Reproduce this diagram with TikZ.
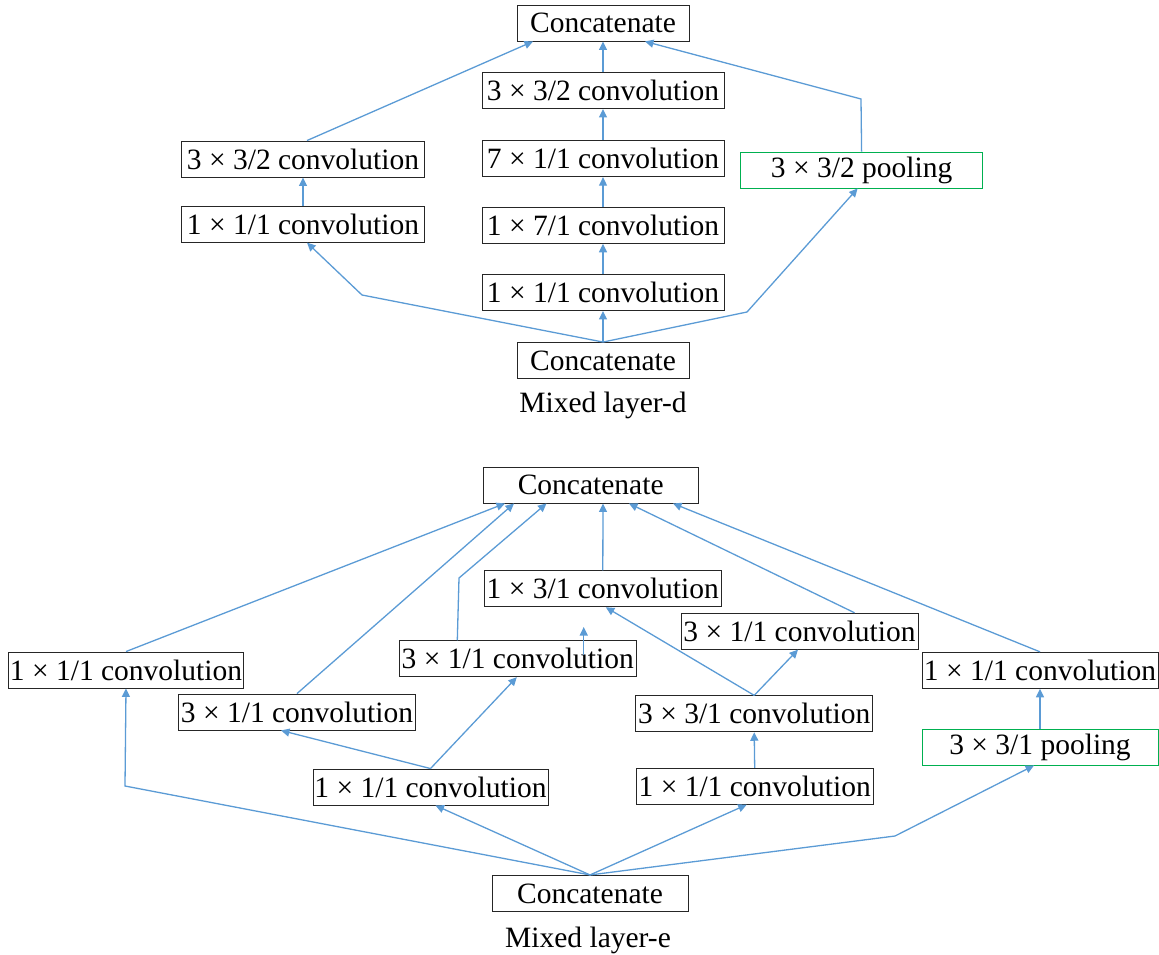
\documentclass[tikz,border=0pt]{standalone}
\usepackage{fontspec}
\setmainfont{Liberation Serif}
\usetikzlibrary{arrows.meta}
\definecolor{linkblue}{HTML}{5B9BD5}
\definecolor{poolgreen}{HTML}{00B050}
\begin{document}
\begin{tikzpicture}[x=1pt,y=-1pt,
  font=\fontsize{29.5}{32}\selectfont,
  box/.style={draw=black!85,line width=0.9pt,inner sep=0pt,minimum height=36pt,minimum width=237pt},
  pool/.style={box,draw=poolgreen},
  link/.style={draw=linkblue,line width=1.3pt,-{Triangle[length=8.5pt,width=8pt]}},
  caption/.style={inner sep=0pt}]
\useasboundingbox (0,0) rectangle (1159,955);

% ---------- Mixed layer-d ----------
\node[box,minimum width=172pt] (dtop) at (603,23) {Concatenate};
\node[box,minimum width=242pt] (dm4) at (603,90.5) {3 × 3/2 convolution};
\node[box,minimum width=242pt] (dm3) at (603,158.7) {7 × 1/1 convolution};
\node[box,minimum width=242pt] (dm2) at (603,225.3) {1 × 7/1 convolution};
\node[box,minimum width=242pt] (dm1) at (603,292.5) {1 × 1/1 convolution};
\node[box,minimum width=172pt] (dbot) at (603,360.5) {Concatenate};
\node[caption] (dcap) at (603,405) {Mixed layer-d};
\node[box,minimum width=243pt] (dl2) at (303,159) {3 × 3/2 convolution};
\node[box,minimum width=243pt] (dl1) at (303,224.2) {1 × 1/1 convolution};
\node[pool,minimum width=242pt] (dp) at (861.6,170) {3 × 3/2 pooling};

\coordinate (dbendL) at (362,295);
\coordinate (dbendR) at (747,312);
\coordinate (dbendP) at (861,99);

\draw[link] (dbot.north) -- (dm1.south);
\draw[link] (dm1.north) -- (dm2.south);
\draw[link] (dm2.north) -- (dm3.south);
\draw[link] (dm3.north) -- (dm4.south);
\draw[link] (dm4.north) -- (dtop.south);
\draw[link] (dbot.north) -- (dbendL) -- ([xshift=4pt]dl1.south);
\draw[link] (dbot.north) -- (dbendR) -- ([xshift=-4pt]dp.south);
\draw[link] (dl1.north) -- (dl2.south);
\draw[link] ([xshift=4pt]dl2.north) -- ([xshift=-70pt]dtop.south);
\draw[link] (dp.north) -- (dbendP) -- ([xshift=42pt]dtop.south);

% ---------- Mixed layer-e ----------
\node[box,minimum width=215pt] (etop) at (590.7,485) {Concatenate};
\node[box,minimum width=235pt] (ea1) at (126,670) {1 × 1/1 convolution};
\node[box] (eb2) at (297,712) {3 × 1/1 convolution};
\node[box,minimum width=235pt] (eb1) at (430.5,787) {1 × 1/1 convolution};
\node[box] (ec2) at (517.8,658.7) {3 × 1/1 convolution};
\node[box] (et) at (602.8,588.8) {1 × 3/1 convolution};
\node[box] (ed2) at (799.5,631.2) {3 × 1/1 convolution};
\node[box] (ed1b) at (754.2,713.8) {3 × 3/1 convolution};
\node[box] (ed1) at (754.7,786.2) {1 × 1/1 convolution};
\node[box,minimum width=236pt] (ee2) at (1040,670.3) {1 × 1/1 convolution};
\node[pool,minimum width=236pt] (ee1) at (1040,747) {3 × 3/1 pooling};
\node[box,minimum width=196pt] (ebot) at (590,893.4) {Concatenate};
\node[caption] (ecap) at (588,940) {Mixed layer-e};

\coordinate (ebendA) at (125,786);
\coordinate (ebendE) at (895,836);
\coordinate (ebendC) at (459,578);
\coordinate (estubA) at (583.7,655);
\coordinate (estubB) at (583.7,627);

% from the lower Concatenate
\draw[link] (ebot.north) -- (ebendA) -- (ea1.south);
\draw[link] (ebot.north) -- ([xshift=5pt]eb1.south);
\draw[link] (ebot.north) -- ([xshift=-8pt]ed1.south);
\draw[link] (ebot.north) -- (ebendE) -- ([xshift=-6pt]ee1.south);

% second branch
\draw[link] (eb1.north) -- ([xshift=-16pt]eb2.south);
\draw[link] (eb1.north) -- ([xshift=-1pt]ec2.south);
\draw[link] (estubA) -- (estubB);

% third branch
\draw[link] (ed1.north) -- (ed1b.south);
\draw[link] (ed1b.north) -- ([xshift=3pt]et.south);
\draw[link] (ed1b.north) -- ([xshift=-1.5pt]ed2.south);

% fourth branch
\draw[link] (ee1.north) -- (ee2.south);

% into the upper Concatenate
\draw[link] (ea1.north) -- ([xshift=-85.7pt]etop.south);
\draw[link] (eb2.north) -- ([xshift=-76.7pt]etop.south);
\draw[link] ([xshift=-60.5pt]ec2.north) -- (ebendC) -- ([xshift=-44.2pt]etop.south);
\draw[link] (et.north) -- ([xshift=12.3pt]etop.south);
\draw[link] ([xshift=55pt]ed2.north) -- ([xshift=38.3pt]etop.south);
\draw[link] (ee2.north) -- ([xshift=82.3pt]etop.south);
\end{tikzpicture}
\end{document}
